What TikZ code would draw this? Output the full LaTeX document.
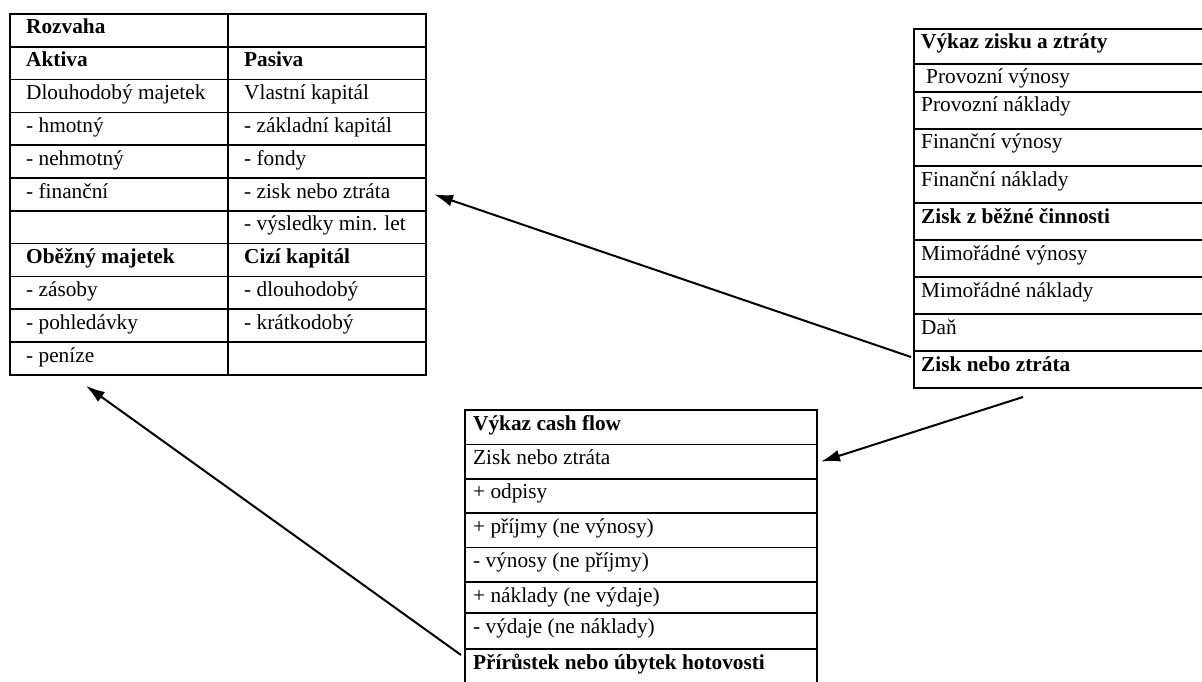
\documentclass[tikz,border=0pt]{standalone}
\usepackage{fontspec}
\setmainfont{Liberation Serif}
\usetikzlibrary{arrows.meta}
\newcommand\mkcell[7]{%
  \node[cellbox, minimum width=#4pt, minimum height=#5pt] (#1) at (#2,#3) {};
  \node[celltext] (#1t) at ([xshift=#6pt,yshift=-20pt]#1.north west) {#7};}
\tikzset{
  cellbox/.style={draw, line width=1.6pt, rectangle, inner sep=0pt, outer sep=0pt, anchor=north west},
  celltext/.style={anchor=base west, inner sep=0pt, font=\fontsize{21.3}{25}\selectfont},
  arr/.style={line width=2pt, -{Latex[length=19pt,width=12pt]}},
}
\begin{document}
\begin{tikzpicture}[x=1pt,y=-1pt]
\useasboundingbox (0,0) rectangle (1202,682);
% Rozvaha
\mkcell{la1}{10}{14}{218}{32.8}{16}{\bfseries Rozvaha}
\mkcell{lb1}{228}{14}{198}{32.8}{16}{}
\mkcell{la2}{10}{46.8}{218}{32.8}{16}{\bfseries Aktiva}
\mkcell{lb2}{228}{46.8}{198}{32.8}{16}{\bfseries Pasiva}
\mkcell{la3}{10}{79.6}{218}{32.8}{16}{Dlouhodobý majetek}
\mkcell{lb3}{228}{79.6}{198}{32.8}{16}{Vlastní kapitál}
\mkcell{la4}{10}{112.4}{218}{32.8}{16}{- hmotný}
\mkcell{lb4}{228}{112.4}{198}{32.8}{16}{- základní kapitál}
\mkcell{la5}{10}{145.2}{218}{32.8}{16}{- nehmotný}
\mkcell{lb5}{228}{145.2}{198}{32.8}{16}{- fondy}
\mkcell{la6}{10}{178}{218}{32.8}{16}{- finanční}
\mkcell{lb6}{228}{178}{198}{32.8}{16}{- zisk nebo ztráta}
\mkcell{la7}{10}{210.8}{218}{32.8}{16}{}
\mkcell{lb7}{228}{210.8}{198}{32.8}{16}{- výsledky min. let}
\mkcell{la8}{10}{243.6}{218}{32.8}{16}{\bfseries Oběžný majetek}
\mkcell{lb8}{228}{243.6}{198}{32.8}{16}{\bfseries Cizí kapitál}
\mkcell{la9}{10}{276.4}{218}{32.8}{16}{- zásoby}
\mkcell{lb9}{228}{276.4}{198}{32.8}{16}{- dlouhodobý}
\mkcell{la10}{10}{309.2}{218}{32.8}{16}{- pohledávky}
\mkcell{lb10}{228}{309.2}{198}{32.8}{16}{- krátkodobý}
\mkcell{la11}{10}{342}{218}{32.8}{16}{- peníze}
\mkcell{lb11}{228}{342}{198}{32.8}{16}{}
% Vykaz zisku a ztraty
\mkcell{pl1}{914}{29}{300}{35}{7}{\bfseries Výkaz zisku a ztráty}
\mkcell{pl2}{914}{64}{300}{28}{12}{Provozní výnosy}
\mkcell{pl3}{914}{92}{300}{37}{7}{Provozní náklady}
\mkcell{pl4}{914}{129}{300}{37}{7}{Finanční výnosy}
\mkcell{pl5}{914}{166}{300}{37}{7}{Finanční náklady}
\mkcell{pl6}{914}{203}{300}{37}{7}{\bfseries Zisk z běžné činnosti}
\mkcell{pl7}{914}{240}{300}{37}{7}{Mimořádné výnosy}
\mkcell{pl8}{914}{277}{300}{37}{7}{Mimořádné náklady}
\mkcell{pl9}{914}{314}{300}{37}{7}{Daň}
\mkcell{pl10}{914}{351}{300}{37}{7}{\bfseries Zisk nebo ztráta}
% Cash flow
\mkcell{cf1}{465}{410}{352}{34.4}{8}{\bfseries Výkaz cash flow}
\mkcell{cf2}{465}{444.4}{352}{34.4}{8}{Zisk nebo ztráta}
\mkcell{cf3}{465}{478.8}{352}{34.4}{8}{+ odpisy}
\mkcell{cf4}{465}{513.2}{352}{34.4}{8}{+ příjmy (ne výnosy)}
\mkcell{cf5}{465}{547.6}{352}{34.4}{8}{- výnosy (ne příjmy)}
\mkcell{cf6}{465}{582}{352}{31}{8}{+ náklady (ne výdaje)}
\mkcell{cf7}{465}{613}{352}{36}{8}{- výdaje (ne náklady)}
\mkcell{cf8}{465}{649}{352}{45}{8}{\bfseries Přírůstek nebo úbytek hotovosti}
% arrows
\draw[arr] ([xshift=-3pt,yshift=-6pt]pl10.north west) -- ([xshift=8pt]lb6.east);
\draw[arr] ([xshift=109pt,yshift=-9pt]pl10.south west) -- ([xshift=4pt]cf2.east);
\draw[arr] ([xshift=-4pt,yshift=-6pt]cf8.north west) -- ([xshift=76pt,yshift=-11pt]la11.south west);
\end{tikzpicture}
\end{document}
